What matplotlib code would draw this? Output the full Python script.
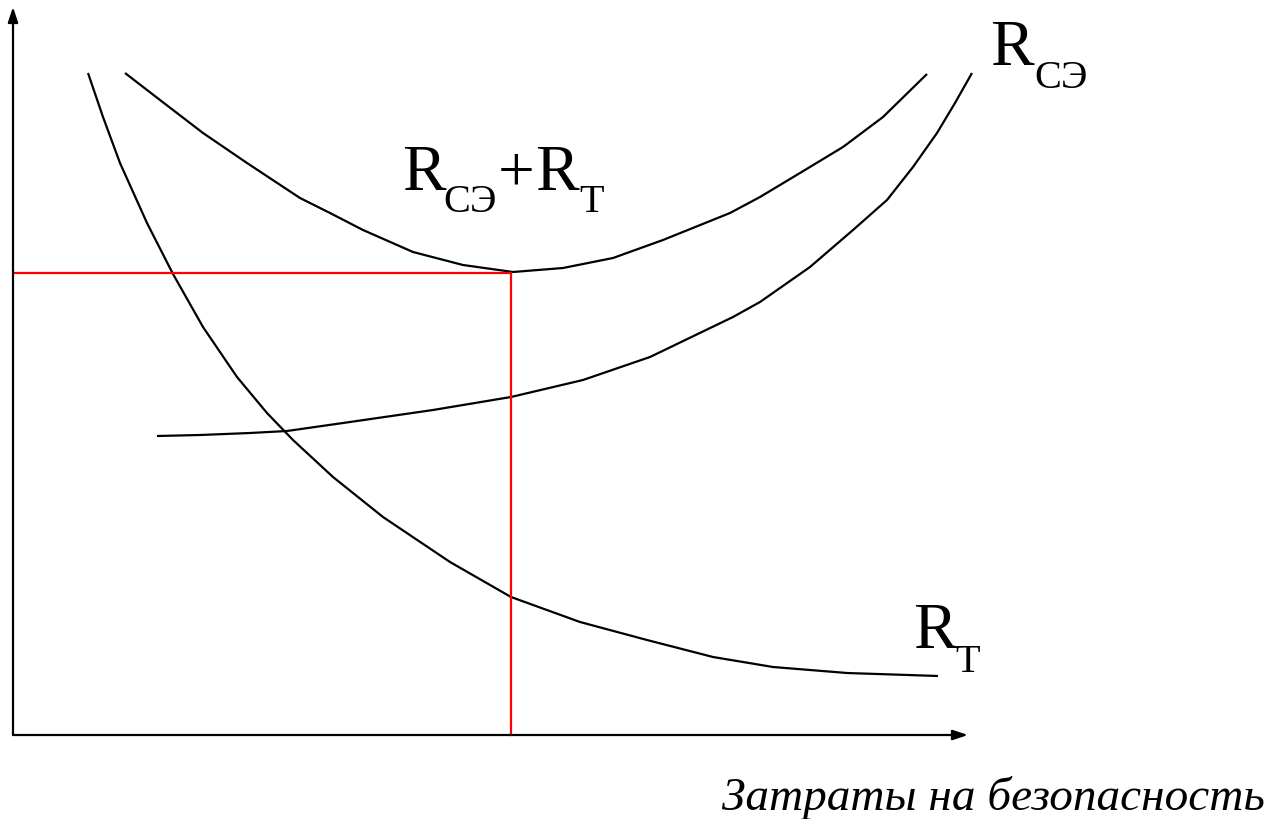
import matplotlib
matplotlib.use("Agg")
import matplotlib.pyplot as plt

# ---- data (x: затраты, y: риск) ----
rt_x = [75, 90, 107, 134, 160, 190, 224, 254, 280, 320, 370, 437, 498, 567, 634, 700, 760, 834, 925]
rt_y = [662, 618, 572, 512, 461, 408, 358, 322, 295, 258, 218, 173, 138, 113, 95, 78, 68, 62, 59]

rse_x = [144, 187, 237, 274, 337, 420, 498, 570, 637, 720, 747, 797, 840, 874, 900, 924, 942, 959]
rse_y = [299, 300, 302, 304, 313, 325, 338, 355, 378, 418, 433, 468, 505, 535, 568, 602, 632, 662]

sum_x = [112, 147, 190, 234, 287, 317, 350, 400, 450, 500, 550, 600, 650, 717, 747, 787, 830, 870, 914]
sum_y = [662, 635, 602, 572, 537, 522, 505, 483, 470, 463, 467, 477, 495, 522, 538, 562, 588, 618, 661]

opt_x = 498
opt_y = 462

x_label = "Затраты на безопасность"

fig = plt.figure(figsize=(12.83, 8.19), dpi=100)
ax = fig.add_axes([0, 0, 1, 1])
ax.set_xlim(-13, 1270)
ax.set_ylim(-84, 735)
ax.axis("off")

lw = 1.6
for xs, ys in [(rt_x, rt_y), (rse_x, rse_y), (sum_x, sum_y)]:
    ax.plot(xs, ys, color="black", lw=lw, solid_capstyle="butt",
            solid_joinstyle="round")

# red optimum lines
ax.plot([2, opt_x, opt_x], [opt_y, opt_y, 0], color="#ff0000", lw=1.6)

# axes with arrows
ap = dict(arrowstyle="-|>,head_length=0.9,head_width=0.3", lw=1.6, color="black",
          shrinkA=0, shrinkB=0)
ax.annotate("", xy=(0, 728), xytext=(0, 0), arrowprops=ap)
ax.annotate("", xy=(955, 0), xytext=(0, 0), arrowprops=ap)

serif = "Liberation Serif"
big = 47
small = 29

def label(parts, x0, y0):
    for t, s, dx, dy in parts:
        ax.text(x0 + dx, y0 + dy, t, fontsize=s, family=serif,
                ha="left", va="baseline", color="black")

# R_СЭ + R_Т
label([("R", big, 0, 0), ("СЭ", small, 41, -22), ("+", big, 96, 0),
       ("R", big, 133, 0), ("Т", small, 177, -22)], 389, 545)
# R_СЭ (top right)
label([("R", big, 0, 0), ("СЭ", small, 44, -23)], 977, 670)
# R_Т
label([("R", big, 0, 0), ("Т", small, 42, -24)], 900, 87)

ax.text(980, -75, x_label, fontsize=34, family=serif, style="italic",
        ha="center", va="baseline", color="black")

fig.savefig("out.png", dpi=100)
